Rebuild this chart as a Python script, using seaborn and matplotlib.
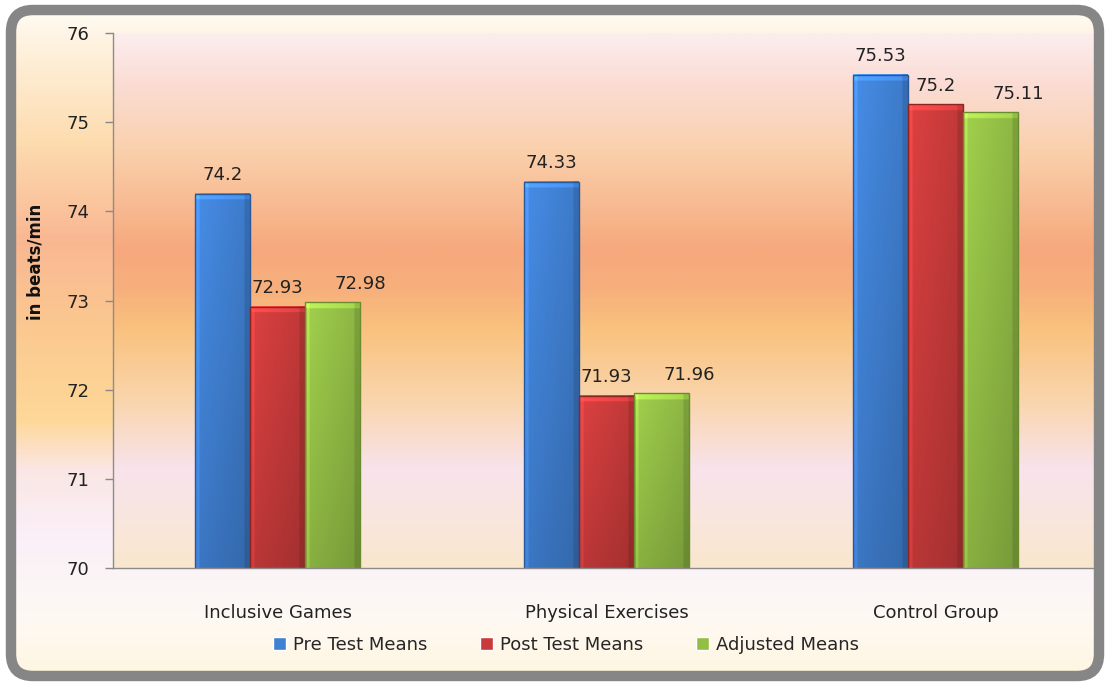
import numpy as np
import pandas as pd
import matplotlib
matplotlib.use("Agg")
import matplotlib.pyplot as plt
from matplotlib.colors import LinearSegmentedColormap, to_rgb
from matplotlib.patches import FancyBboxPatch
import seaborn as sns

groups = ["Inclusive Games", "Physical Exercises", "Control Group"]
series = ["Pre Test Means", "Post Test Means", "Adjusted Means"]
pre_test = [74.2, 74.33, 75.53]
post_test = [72.93, 71.93, 75.2]
adjusted = [72.98, 71.96, 75.11]
y_ticks = [70, 71, 72, 73, 74, 75, 76]

colors = ["#4080D2", "#C93B3B", "#93BE46"]
edges = ["#28579A", "#8A2626", "#6A8C2E"]

df = pd.DataFrame({
    "group": groups * 3,
    "series": [s for s in series for _ in groups],
    "value": pre_test + post_test + adjusted,
})

sns.set_theme(style="white")
plt.rcParams["font.family"] = ["DejaVu Sans"]

W, H = 1105, 682
fig = plt.figure(figsize=(W / 100, H / 100), dpi=100)


def gradient_cmap(stops, y0, y1):
    pos = [(y - y0) / (y1 - y0) for y, _ in stops]
    return LinearSegmentedColormap.from_list("g", list(zip(pos, [c for _, c in stops])))


def bevel_image(color, px_height):
    # light left edge / top cap, darker right edge and bottom, like the excel bevel
    base = np.array(to_rgb(color))
    xs = np.linspace(0, 1, 60)
    fx = np.where(xs < 0.07, 1.18, 1.06 - 0.14 * xs)
    fx = np.where(xs > 0.9, 0.82, fx)
    ys = np.linspace(0, 1, 300)
    cap = 6 / max(px_height, 1)
    fy = np.where(ys < cap, 1.22, 1.04 - 0.16 * ys)
    img = base[None, None, :] * fx[None, :, None] * fy[:, None, None]
    return np.clip(img, 0, 1)


# chart area background (pixel coords)
bg = fig.add_axes([0, 0, 1, 1], zorder=-1)
bg.set_xlim(0, W)
bg.set_ylim(H, 0)
bg.axis("off")
chart_stops = [(8, "#FFFBF3"), (60, "#FEEED6"), (140, "#FDDCB0"), (240, "#F9B792"),
               (330, "#FBC990"), (420, "#FED898"), (470, "#FBE6E4"), (540, "#FAF0F8"),
               (620, "#FEF9F4"), (676, "#FFF6E0")]
grad = np.linspace(0, 1, 400)[:, None]
im = bg.imshow(grad, extent=(8, 1100, 676, 8), origin="upper", aspect="auto",
               cmap=gradient_cmap(chart_stops, 8, 676))
clip = FancyBboxPatch((11, 10), 1088, 666, boxstyle="round,pad=0,rounding_size=22",
                      transform=bg.transData, facecolor="none", edgecolor="none")
bg.add_patch(clip)
im.set_clip_path(clip)

# plot area
ax = fig.add_axes([113 / W, (H - 568) / H, 987 / W, 535 / H])
ax.set_facecolor("none")
sns.barplot(data=df, x="group", y="value", hue="series", order=groups, hue_order=series,
            palette=colors, saturation=1, width=0.5, linewidth=1, ax=ax)

plot_stops = [(33, "#FCEEEE"), (80, "#FBDDD6"), (150, "#FAD0AC"), (250, "#F6A87C"),
              (290, "#F7B07C"), (330, "#F9C27E"), (400, "#FAD5AC"), (470, "#F8E3EC"),
              (520, "#F9E6DE"), (568, "#FAE7CE")]
ax.imshow(grad, extent=(0, 1, 0, 1), transform=ax.transAxes, origin="upper", aspect="auto",
          cmap=gradient_cmap(plot_stops, 33, 568), zorder=0)

ymin, ymax = 70, 76
handles, labels = ax.get_legend_handles_labels()
ax.get_legend().remove()
fig.legend(handles, labels, loc="center", bbox_to_anchor=(566 / W, 1 - 645 / H), ncol=3,
           frameon=False, fontsize=13, handlelength=0.72, handleheight=0.72,
           handletextpad=0.4, columnspacing=2.9)

for i, cont in enumerate(ax.containers):
    for bar in cont:
        top = bar.get_y() + bar.get_height()
        px_h = (top - ymin) * 535 / (ymax - ymin)
        ax.imshow(bevel_image(colors[i], px_h),
                  extent=(bar.get_x(), bar.get_x() + bar.get_width(), ymin, top),
                  origin="upper", aspect="auto", zorder=2, interpolation="bilinear")
        bar.set_facecolor("none")
        bar.set_edgecolor(edges[i])
        bar.set_zorder(3)
    anns = ax.bar_label(cont, labels=[f"{v:g}" for v in cont.datavalues], padding=7,
                        fontsize=13, color="#222222")
    if i == 2:
        for a in anns:
            a.xyann = (20, 7)

ax.set_xlim(-0.5, 2.5)
ax.set_ylim(ymin, ymax)
ax.set_yticks(y_ticks)
ax.set_xlabel("")
ax.set_ylabel("in beats/min", fontsize=12, fontweight="bold", color="#111111")
ax.yaxis.set_label_coords(-(113 - 44) / 987, (568 - 262) / 535)
ax.tick_params(axis="y", left=True, length=6, width=1, color="#888888", pad=11,
               labelsize=13, labelcolor="#222222")
ax.tick_params(axis="x", bottom=False, pad=20, labelsize=13, labelcolor="#222222")
for s in ["top", "right"]:
    ax.spines[s].set_visible(False)
for s in ["left", "bottom"]:
    ax.spines[s].set_color("#8C8C8C")
    ax.spines[s].set_linewidth(1)
    ax.spines[s].set_zorder(4)

# rounded grey frame on top
frame = FancyBboxPatch((11, 10), 1088, 666, boxstyle="round,pad=0,rounding_size=22",
                       transform=bg.transData, facecolor="none", edgecolor="#868686",
                       linewidth=7.5, zorder=10)
fig.patches.append(frame)
frame.set_figure(fig)

fig.savefig("out.png", dpi=100)
plt.close(fig)
